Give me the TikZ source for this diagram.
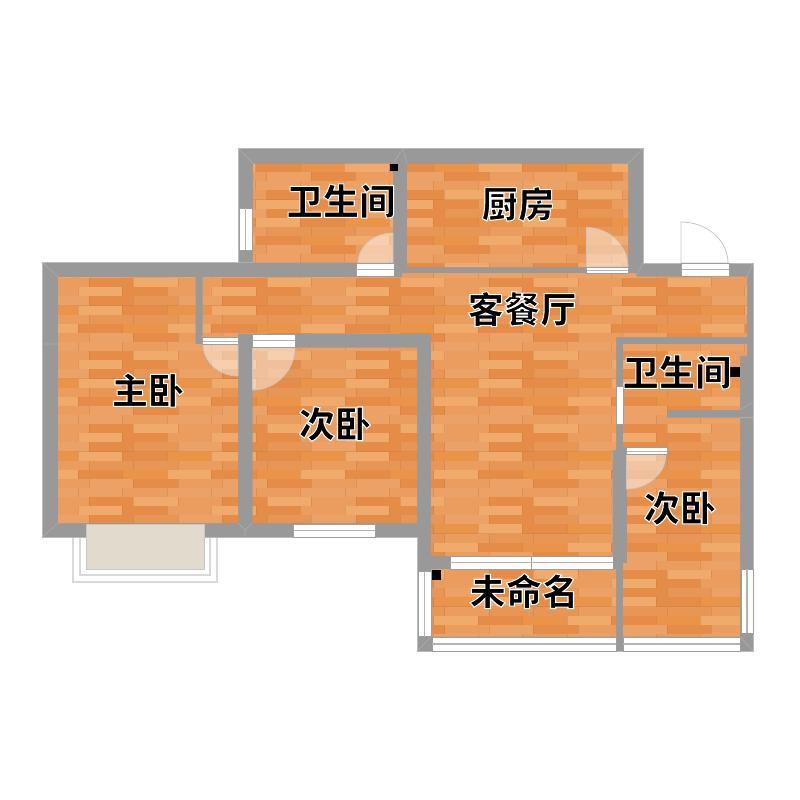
\documentclass[tikz,border=0pt]{standalone}
\usepackage{fontspec}
\usetikzlibrary{calc}
\newfontfamily\cjk{Noto Sans CJK SC Black}
\definecolor{wallgrey}{HTML}{999999}
\definecolor{walledge}{HTML}{BBBBBB}
\definecolor{mitre}{HTML}{AEAEAE}
\definecolor{woodbase}{HTML}{E99C5C}
\definecolor{balconyfloor}{HTML}{E1DBCE}
\definecolor{wL}{HTML}{EFAA6C}
\definecolor{wB}{HTML}{ECA266}
\definecolor{wC}{HTML}{EA9D5E}
\definecolor{wE}{HTML}{E79655}
\definecolor{wF}{HTML}{E58C49}
\definecolor{wG}{HTML}{EA9449}
\definecolor{seam}{HTML}{B9733A}
% plank tile: 8 rows of 3 planks
\colorlet{t00}{wB}\colorlet{t01}{wF}\colorlet{t02}{wC}
\colorlet{t10}{wB}\colorlet{t11}{wC}\colorlet{t12}{wB}
\colorlet{t20}{wF}\colorlet{t21}{wL}\colorlet{t22}{wC}
\colorlet{t30}{wL}\colorlet{t31}{wF}\colorlet{t32}{wC}
\colorlet{t40}{wF}\colorlet{t41}{wE}\colorlet{t42}{wB}
\colorlet{t50}{wL}\colorlet{t51}{wF}\colorlet{t52}{wG}
\colorlet{t60}{wE}\colorlet{t61}{wE}\colorlet{t62}{wC}
\colorlet{t70}{wF}\colorlet{t71}{wG}\colorlet{t72}{wL}
\tikzset{
  wallshape/.style={fill=wallgrey,draw=walledge,line width=.6pt},
  mitreline/.style={draw=mitre,line width=.4pt},
  winbox/.style={fill=white,draw=black!38,line width=.6pt},
  winbar/.style={draw=black!30,line width=1.4pt},
  winthin/.style={draw=black!30,line width=.7pt},
  leaf/.style={fill=white,fill opacity=.45,draw=black!22,line width=.5pt},
  openleaf/.style={fill=white,draw=black!22,line width=.6pt},
  pillar/.style={fill=black},
  roomlabel/.style={font=\cjk\fontsize{27.2pt}{27.2pt}\selectfont,inner sep=0pt,text=black},
  balcline/.style={fill=white,draw=black!15,line width=1pt},
  balcfloor/.style={fill=balconyfloor,draw=black!22,line width=.7pt},
}
\newcommand\halo[1]{\special{pdf:code q 2 Tr .8 w 1 1 1 RG}#1\special{pdf:code Q}}
% x0, y0, xmin, xmax, ymin, ymax
\newcommand\woodfloor[6]{%
  \pgfmathtruncatemacro\rstart{floor((#5-#2)/9.12)}%
  \pgfmathtruncatemacro\rend{floor((#6-#2)/9.12)}%
  \foreach \rr in {\rstart,...,\rend}{%
    \pgfmathtruncatemacro\ri{mod(\rr+800,8)}%
    \pgfmathsetmacro\xs{#1+(mod(\ri,2)==0?11:0)}%
    \pgfmathtruncatemacro\cstart{floor((#3-\xs)/44.44)}%
    \pgfmathtruncatemacro\cend{floor((#4-\xs)/44.44)}%
    \pgfmathsetmacro\ya{#2+\rr*9.12}%
    \foreach \cc in {\cstart,...,\cend}{%
      \pgfmathtruncatemacro\ci{mod(\cc+300,3)}%
      \pgfmathsetmacro\xa{\xs+\cc*44.44}%
      \fill[t\ri\ci] (\xa,\ya) rectangle (\xa+44.74,\ya+9.42);
      \draw[seam,line width=.2pt,opacity=.3] (\xa,\ya+9.12) -- (\xa+44.44,\ya+9.12) (\xa,\ya) -- (\xa,\ya+9.12);
    }%
  }%
}
% hinge, end a, end b
\newcommand\leafpath[3]{(#1) -- (#2) .. controls ($(#2)+.5523*(#3)-.5523*(#1)$) and ($(#3)+.5523*(#2)-.5523*(#1)$) .. (#3) -- cycle}
\begin{document}
\begin{tikzpicture}[x=.75pt,y=-.75pt]
\useasboundingbox (0,0) rectangle (800,800);
\fill[white] (0,0) rectangle (800,800);
% balcony
\draw[balcline] (73,530) rectangle (217,582);
\draw[balcline] (80,530) rectangle (210,575);
% walls
\draw[wallshape] (238.5,148.5) -- (643,148.5) -- (643,263) -- (753,263) -- (753,651) -- (417.5,651) -- (417.5,537) -- (42.5,537) -- (42.5,262.5) -- (238.5,262.5) -- cycle;
% floors with the main plank layout
\begin{scope}
\clip (58,277) -- (195.5,277) -- (195.5,344) -- (238,344) -- (238,523) -- (58,523) -- cycle
  (202.5,277) -- (402,277) -- (402,273) -- (636,273) -- (636,276.5) -- (747,276.5) -- (747,337) -- (616,337) -- (616,450) -- (612.5,450) -- (612.5,556) -- (431,556) -- (431,333.5) -- (238,333.5) -- (238,337) -- (202.5,337) -- cycle
  (252.5,347.5) -- (417,347.5) -- (417,523) -- (252.5,523) -- cycle
  (431,569) -- (616,569) -- (616,636.5) -- (431,636.5) -- cycle
  (623,344) -- (747,344) -- (747,356) -- (740,356) -- (740,410) -- (667,410) -- (667,447) -- (623,447) -- cycle
  (627,454) -- (667,454) -- (667,417.5) -- (740,417.5) -- (740,636.5) -- (623,636.5) -- (623,563) -- (627,563) -- cycle;
\woodfloor{78}{260}{58}{747}{277}{637}
\end{scope}
% floors with the upper plank layout
\begin{scope}
\clip (253,163.5) -- (393,163.5) -- (393,262.5) -- (253,262.5) -- cycle
  (407,163.5) -- (628,163.5) -- (628,267) -- (407,267) -- cycle;
\woodfloor{255.5}{172.2}{253}{628}{163}{267}
\end{scope}
% wall mitres
\path[mitreline] (238.5,148.5) -- (253,163.5) (643,148.5) -- (628,163.5) (42.5,262.5) -- (58,277) (42.5,537) -- (58,523)
  (403,148.5) -- (393,163.5) (403,148.5) -- (407,163.5) (238.5,262.5) -- (253,262.5)
  (238,523) -- (245,530) -- (252.5,523) (245,530) -- (245,537) (643,263) -- (636,276.5) (753,263) -- (747,276.5)
  (42.5,344) -- (58,344) (753,651) -- (740,636.5) (417.5,651) -- (431,636.5) (740,417.5) -- (753,417.5) (740,410) -- (753,402);
% balcony floor
\draw[balcfloor] (86,524) rectangle (204,569);
% door leaves
\coordinate (h1) at (393,263); \coordinate (a1) at (393,233); \coordinate (b1) at (358,263);
\coordinate (h2) at (586.5,267); \coordinate (a2) at (586.5,227.5); \coordinate (b2) at (628,267);
\coordinate (h3) at (681,263); \coordinate (a3) at (681,222); \coordinate (b3) at (728,263);
\coordinate (h4) at (238,344); \coordinate (a4) at (203,344); \coordinate (b4) at (238,376);
\coordinate (h5) at (252.5,347); \coordinate (a5) at (295,347); \coordinate (b5) at (252.5,390);
\coordinate (h6) at (626.5,454); \coordinate (a6) at (666,454); \coordinate (b6) at (626.5,489);
\path[leaf] \leafpath{h1}{a1}{b1};
\path[leaf] \leafpath{h2}{a2}{b2};
\path[openleaf] \leafpath{h3}{a3}{b3};
\path[leaf] \leafpath{h4}{a4}{b4};
\path[leaf] \leafpath{h5}{a5}{b5};
\path[leaf] \leafpath{h6}{a6}{b6};
% door strips
\draw[winbox] (356,263) rectangle (394,276); \draw[winthin] (356,269.5) -- (394,269.5);
\draw[winbox] (586.5,267) rectangle (628,273); \draw[winthin] (586.5,270) -- (628,270);
\draw[winbox] (681,263) rectangle (729,276); \draw[winthin] (681,269) -- (729,269);
\draw[winbox] (202.5,337.5) rectangle (238,344); \draw[winthin] (202.5,341) -- (238,341);
\draw[winbox] (252.5,334) rectangle (295,347); \draw[winthin] (252.5,340.5) -- (295,340.5);
\draw[winbox] (626.5,447.5) rectangle (667,454); \draw[winthin] (626.5,451) -- (667,451);
% windows
\draw[winbox] (239,208) rectangle (252,250); \draw[winbar] (245.5,208) -- (245.5,250);
\draw[winbox] (293,524) rectangle (375,537); \draw[winbar] (293,530.5) -- (375,530.5);
\draw[winbox] (450,556) rectangle (531,569); \draw[winbar] (450,562.5) -- (531,562.5);
\draw[winbox] (531,556) rectangle (613,569); \draw[winbar] (531,562.5) -- (613,562.5);
\draw[winbox] (418,571) rectangle (431,636.5); \draw[winbar] (424.5,571) -- (424.5,636.5);
\draw[winbox] (432,637) rectangle (616,651); \draw[winbar] (432,644) -- (616,644);
\draw[winbox] (623,637) rectangle (740,651); \draw[winbar] (623,644) -- (740,644);
\draw[winbox] (741,569) rectangle (753,633); \draw[winbar] (747,569) -- (747,633);
\draw[winbox] (616.5,386.5) rectangle (623,424);
% pillars
\fill[pillar] (390,163.5) rectangle (398,171);
\fill[pillar] (729.5,366.5) rectangle (740,377);
\fill[pillar] (431.5,569.5) rectangle (441,580);
% labels
\node[roomlabel] (bathtop) at (341,201) {\halo{卫生间}};
\node[roomlabel] (kitchen) at (518,204) {\halo{厨房}};
\node[roomlabel] (living) at (522,309) {\halo{客餐厅}};
\node[roomlabel] (master) at (148,390) {\halo{主卧}};
\node[roomlabel] (bedmid) at (335,424) {\halo{次卧}};
\node[roomlabel] (bathright) at (677,372) {\halo{卫生间}};
\node[roomlabel] (bedright) at (680,508) {\halo{次卧}};
\node[roomlabel] (unnamed) at (524,591) {\halo{未命名}};
\end{tikzpicture}
\end{document}
